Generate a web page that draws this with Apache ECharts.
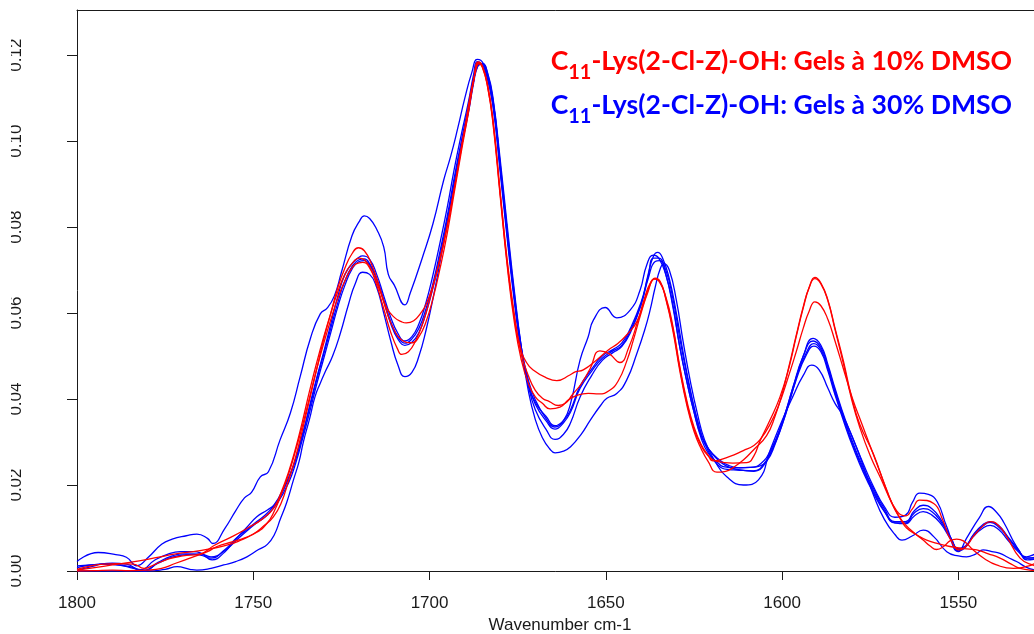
<!DOCTYPE html>
<html><head><meta charset="utf-8">
<script src="https://cdn.jsdelivr.net/npm/echarts@6/dist/echarts.min.js"></script>
<style>html,body{margin:0;padding:0;background:#fff}#c{width:1034px;height:634px}</style>
</head><body><div id="c"></div><script>
// ---------- DATA ----------
const wnTicks = [1800, 1750, 1700, 1650, 1600, 1550];
const absTicks = [0, 0.02, 0.04, 0.06, 0.08, 0.10, 0.12];
const xTitle = 'Wavenumber cm-1';
const legendPrefix = ['C', '11'];
const legendRest = ['-Lys(2-Cl-Z)-OH: Gels à 10% DMSO', '-Lys(2-Cl-Z)-OH: Gels à 30% DMSO'];

// 30% DMSO (blue) spectra, [wavenumber, absorbance]
const blue30_A = [[1800,0.0022],[1794,0.0043],[1789,0.0038],[1786,0.0032],[1783,0.0012],[1780,0.0030],[1776,0.0062],[1773,0.0074],[1769,0.0082],[1766,0.0086],[1763,0.0076],[1761.5,0.0064],[1758,0.0100],[1755,0.0140],[1752.5,0.0170],[1750.5,0.0183],[1748,0.0219],[1745.7,0.0231],[1742.4,0.0305],[1739.5,0.0367],[1736.7,0.0452],[1733.8,0.0541],[1731,0.0598],[1729,0.0612],[1727,0.0640],[1725,0.0695],[1722,0.0780],[1720,0.0812],[1718.5,0.0826],[1717,0.0820],[1715,0.0795],[1713,0.0754],[1711.7,0.0690],[1710,0.0665],[1707,0.0619],[1705.5,0.0646],[1702,0.0730],[1699,0.0809],[1696,0.0909],[1694,0.0965],[1692,0.1030],[1690,0.1100],[1688,0.1160],[1686.5,0.1190],[1685.5,0.1188],[1684,0.1165],[1682,0.1095],[1680,0.0945],[1678,0.0785],[1676,0.0640],[1674,0.0520],[1672,0.0445],[1670,0.0398],[1667,0.0355],[1664.5,0.0335],[1662,0.0350],[1660,0.0390],[1657.3,0.0491],[1655,0.0545],[1653.5,0.0584],[1650.2,0.0613],[1646.9,0.0589],[1643.1,0.0607],[1640.3,0.0653],[1638.4,0.0712],[1636.5,0.0735],[1635,0.0728],[1633,0.0690],[1631,0.0620],[1629,0.0520],[1627,0.0440],[1625,0.0370],[1623,0.0315],[1621,0.0285],[1618,0.0260],[1615,0.0245],[1612,0.0240],[1609,0.0241],[1606,0.0245],[1603,0.0280],[1600,0.0340],[1597,0.0420],[1594,0.0500],[1591.2,0.0541],[1589,0.0525],[1587,0.0480],[1585,0.0425],[1582,0.0350],[1580,0.0310],[1577,0.0250],[1574,0.0195],[1571,0.0150],[1568,0.0125],[1565,0.0130],[1563,0.0160],[1561,0.0181],[1558.5,0.0178],[1556,0.0161],[1553.3,0.0103],[1550,0.0045],[1547.7,0.0076],[1544,0.0125],[1541.5,0.0150],[1539,0.0135],[1537,0.0111],[1533.5,0.0057],[1530.7,0.0033],[1528,0.0040],[1526,0.0045]];
const blue30_B = [[1800,0.0012],[1795,0.0015],[1790,0.0018],[1786,0.0016],[1782,0.0003],[1778,0.0025],[1774,0.0040],[1770.7,0.0045],[1767,0.0045],[1765,0.0042],[1761.7,0.0026],[1758,0.0045],[1755.6,0.0068],[1752,0.0100],[1749,0.0126],[1746,0.0142],[1744,0.0155],[1741,0.0200],[1738.6,0.0245],[1736,0.0315],[1734,0.0385],[1732,0.0450],[1730,0.0510],[1728,0.0575],[1726,0.0640],[1724,0.0690],[1722,0.0715],[1720,0.0730],[1719,0.0733],[1717,0.0725],[1715,0.0690],[1713,0.0640],[1711,0.0590],[1709,0.0553],[1707,0.0535],[1705,0.0545],[1703,0.0575],[1701,0.0625],[1699,0.0690],[1697,0.0765],[1695,0.0845],[1693,0.0935],[1691,0.1015],[1689,0.1090],[1687.5,0.1155],[1686.5,0.1185],[1685.5,0.1182],[1684,0.1160],[1682,0.1080],[1680,0.0930],[1678,0.0775],[1676,0.0630],[1674,0.0512],[1672,0.0435],[1670,0.0392],[1667,0.0360],[1664.4,0.0338],[1662,0.0350],[1660,0.0375],[1657.3,0.0430],[1654,0.0470],[1651,0.0500],[1648,0.0515],[1645.5,0.0530],[1643,0.0565],[1640,0.0625],[1638,0.0685],[1636.5,0.0728],[1635,0.0728],[1633,0.0690],[1631,0.0615],[1629,0.0520],[1627,0.0440],[1625,0.0370],[1623,0.0310],[1621,0.0275],[1618,0.0250],[1616.7,0.0243],[1613,0.0240],[1609.1,0.0241],[1606,0.0250],[1603,0.0285],[1600,0.0345],[1597,0.0425],[1594,0.0500],[1591.2,0.0535],[1589,0.0520],[1587,0.0475],[1585,0.0420],[1582,0.0345],[1580,0.0300],[1577,0.0240],[1574,0.0190],[1571,0.0145],[1568,0.0115],[1565,0.0115],[1562.5,0.0140],[1560,0.0153],[1557.5,0.0145],[1555,0.0120],[1552,0.0075],[1550,0.0047],[1548,0.0055],[1545.8,0.0084],[1543,0.0108],[1541,0.0115],[1538.5,0.0105],[1536,0.0080],[1533,0.0050],[1530.5,0.0026],[1528,0.0028],[1526,0.0032]];
const blue30_C = [[1800,0.0002],[1795,0.0012],[1793,0.0016],[1789,0.0015],[1785,0.0010],[1781,0.0000],[1777,0.0020],[1773,0.0035],[1769,0.0040],[1765,0.0037],[1762,0.0030],[1758,0.0050],[1755,0.0075],[1752,0.0095],[1749,0.0115],[1746,0.0135],[1743,0.0165],[1740,0.0215],[1738,0.0260],[1736,0.0320],[1734,0.0380],[1732,0.0445],[1730,0.0505],[1728,0.0565],[1726,0.0625],[1724,0.0675],[1722,0.0708],[1720,0.0724],[1718.5,0.0726],[1717,0.0715],[1715,0.0680],[1713,0.0630],[1711,0.0580],[1709,0.0545],[1707,0.0530],[1705,0.0540],[1703,0.0565],[1701,0.0610],[1699,0.0670],[1697,0.0745],[1695,0.0825],[1693,0.0915],[1691,0.1000],[1689,0.1080],[1687.5,0.1145],[1686.3,0.1180],[1685.3,0.1179],[1684,0.1158],[1682,0.1085],[1680,0.0940],[1678,0.0785],[1676,0.0640],[1674,0.0515],[1672,0.0435],[1670,0.0388],[1667,0.0350],[1664.4,0.0330],[1662,0.0345],[1660,0.0370],[1657.3,0.0425],[1654,0.0465],[1651,0.0495],[1648,0.0512],[1645.5,0.0525],[1643,0.0560],[1640,0.0620],[1638,0.0680],[1636,0.0720],[1634.7,0.0722],[1633,0.0700],[1631,0.0635],[1629,0.0540],[1627,0.0455],[1625,0.0380],[1623,0.0320],[1621,0.0280],[1618,0.0245],[1615,0.0236],[1612.9,0.0235],[1608.2,0.0233],[1604.4,0.0258],[1602,0.0300],[1599,0.0370],[1596,0.0450],[1593,0.0510],[1591,0.0529],[1589,0.0515],[1587,0.0470],[1585,0.0415],[1582,0.0340],[1580,0.0295],[1577,0.0235],[1574,0.0185],[1571,0.0140],[1568,0.0112],[1565,0.0112],[1562.5,0.0135],[1560,0.0145],[1557.5,0.0138],[1555,0.0115],[1552,0.0075],[1550,0.0050],[1548,0.0056],[1545.8,0.0082],[1543,0.0105],[1541,0.0113],[1538.5,0.0102],[1536,0.0078],[1533,0.0048],[1530.5,0.0030],[1528,0.0030],[1526,0.0033]];
const blue30_D = [[1800,0.0008],[1796,0.0014],[1792,0.0016],[1788,0.0014],[1784,0.0006],[1781,0.0002],[1777,0.0018],[1773,0.0032],[1769,0.0038],[1765,0.0040],[1762,0.0033],[1758,0.0048],[1755,0.0070],[1752,0.0092],[1749,0.0112],[1746,0.0130],[1743,0.0160],[1740,0.0205],[1738,0.0250],[1736,0.0308],[1734,0.0370],[1732,0.0435],[1730,0.0495],[1728,0.0555],[1726,0.0615],[1724,0.0665],[1722,0.0702],[1720,0.0720],[1718.5,0.0722],[1717,0.0712],[1715,0.0678],[1713,0.0628],[1711,0.0575],[1709,0.0540],[1707,0.0525],[1705,0.0532],[1703,0.0555],[1701,0.0600],[1699,0.0660],[1697,0.0735],[1695,0.0815],[1693,0.0905],[1691,0.0990],[1689,0.1070],[1687.5,0.1140],[1686.3,0.1175],[1685,0.1180],[1683.5,0.1155],[1682,0.1095],[1680,0.0950],[1678,0.0795],[1676,0.0648],[1674,0.0522],[1672,0.0432],[1670,0.0375],[1667,0.0330],[1664.4,0.0306],[1662,0.0318],[1660,0.0345],[1657.3,0.0405],[1654,0.0455],[1651,0.0490],[1648,0.0508],[1645.5,0.0522],[1643,0.0555],[1640,0.0620],[1638,0.0690],[1636.5,0.0732],[1635.3,0.0741],[1634,0.0730],[1632,0.0680],[1630,0.0600],[1628,0.0505],[1626,0.0420],[1624,0.0350],[1622,0.0300],[1619,0.0265],[1616,0.0245],[1612,0.0235],[1608,0.0232],[1604.4,0.0255],[1602,0.0295],[1599,0.0365],[1596,0.0445],[1593,0.0505],[1591,0.0523],[1589,0.0510],[1587,0.0465],[1585,0.0410],[1582,0.0335],[1580,0.0290],[1577,0.0230],[1574,0.0180],[1571,0.0138],[1568,0.0112],[1565,0.0110],[1562.5,0.0128],[1560,0.0138],[1557.5,0.0130],[1555,0.0110],[1552,0.0072],[1550,0.0052],[1548,0.0058],[1545.8,0.0080],[1543,0.0100],[1541,0.0106],[1538.5,0.0096],[1536,0.0072],[1533,0.0045],[1530.5,0.0030],[1528,0.0032],[1526,0.0035]];
const blue30_E = [[1800,0.0000],[1790,0.0000],[1780,0.0000],[1775,0.0004],[1771.6,0.0010],[1768,0.0004],[1766,0.0002],[1762,0.0006],[1758.4,0.0014],[1755,0.0022],[1751.8,0.0033],[1748.5,0.0050],[1746,0.0062],[1744,0.0085],[1742.4,0.0119],[1740.5,0.0160],[1738.6,0.0212],[1737,0.0255],[1735.8,0.0300],[1734,0.0355],[1732.5,0.0405],[1731,0.0437],[1729.5,0.0465],[1727.5,0.0500],[1725.3,0.0553],[1723,0.0620],[1721,0.0670],[1719,0.0695],[1717,0.0690],[1715,0.0660],[1713,0.0600],[1711,0.0535],[1709,0.0480],[1707,0.0452],[1705,0.0462],[1703,0.0500],[1701,0.0560],[1699,0.0635],[1697,0.0720],[1695,0.0810],[1693,0.0900],[1691,0.0985],[1689,0.1065],[1687.5,0.1135],[1686.3,0.1175],[1685,0.1180],[1683.5,0.1158],[1682,0.1100],[1680,0.0960],[1678,0.0805],[1676,0.0655],[1674,0.0522],[1672,0.0420],[1670,0.0352],[1668,0.0310],[1666,0.0285],[1664.4,0.0275],[1662,0.0279],[1660,0.0289],[1657,0.0318],[1654.4,0.0351],[1651.5,0.0385],[1649.7,0.0402],[1646.9,0.0413],[1644.1,0.0444],[1641.2,0.0506],[1639,0.0560],[1637.5,0.0605],[1636,0.0660],[1634.5,0.0705],[1633.5,0.0715],[1632,0.0700],[1630,0.0630],[1628,0.0530],[1626,0.0440],[1624,0.0365],[1622,0.0305],[1619,0.0255],[1615.7,0.0219],[1611,0.0200],[1606.7,0.0212],[1603.4,0.0281],[1600,0.0350],[1597,0.0405],[1594,0.0455],[1591.6,0.0479],[1589.5,0.0468],[1587,0.0425],[1585,0.0390],[1583,0.0365],[1580,0.0310],[1577,0.0245],[1574,0.0175],[1571,0.0120],[1568,0.0085],[1566,0.0072],[1563,0.0082],[1560,0.0095],[1557,0.0080],[1553.3,0.0045],[1550,0.0035],[1547.7,0.0033],[1545,0.0040],[1543,0.0049],[1540.5,0.0045],[1538.2,0.0041],[1536,0.0032],[1533.5,0.0022],[1530.5,0.0008],[1528,0.0002],[1526,0.0000]];

// 10% DMSO (red) spectra, [wavenumber, absorbance]
const red10_A = [[1800,0.0002],[1795,0.0008],[1790,0.0014],[1785,0.0020],[1780,0.0027],[1776.4,0.0033],[1772,0.0040],[1767,0.0045],[1762,0.0052],[1757.5,0.0060],[1754,0.0070],[1750,0.0086],[1747,0.0105],[1744.3,0.0126],[1742,0.0160],[1740,0.0210],[1738,0.0265],[1736,0.0330],[1734,0.0400],[1732,0.0470],[1730,0.0540],[1728,0.0600],[1726,0.0660],[1724,0.0705],[1722,0.0738],[1720.2,0.0752],[1718.5,0.0745],[1716.5,0.0715],[1714,0.0655],[1712,0.0600],[1710,0.0560],[1708,0.0538],[1705,0.0531],[1703,0.0545],[1701,0.0580],[1699,0.0635],[1697,0.0705],[1695,0.0785],[1693,0.0880],[1691,0.0975],[1689,0.1065],[1687.5,0.1140],[1686.2,0.1184],[1685,0.1175],[1683.5,0.1130],[1682,0.1050],[1680,0.0885],[1678,0.0725],[1676,0.0600],[1674.3,0.0522],[1672.5,0.0485],[1670.5,0.0467],[1667,0.0450],[1663.9,0.0443],[1660.2,0.0456],[1658.7,0.0463],[1656.4,0.0468],[1652.6,0.0491],[1649.3,0.0514],[1646.5,0.0530],[1644.1,0.0549],[1641.2,0.0580],[1639,0.0630],[1637.5,0.0665],[1636,0.0681],[1634.5,0.0672],[1633,0.0635],[1631,0.0565],[1629,0.0470],[1627,0.0390],[1625,0.0330],[1623,0.0292],[1621,0.0268],[1618.5,0.0255],[1614,0.0251],[1610,0.0252],[1608,0.0268],[1606.3,0.0302],[1603.5,0.0350],[1600.6,0.0405],[1598,0.0475],[1596,0.0545],[1594,0.0612],[1592.3,0.0660],[1590.7,0.0683],[1589,0.0670],[1587,0.0630],[1585,0.0565],[1582.6,0.0488],[1580.3,0.0405],[1578,0.0342],[1574.1,0.0272],[1570.4,0.0190],[1567.5,0.0140],[1565,0.0128],[1563,0.0145],[1561,0.0165],[1557,0.0157],[1554.5,0.0120],[1552.4,0.0076],[1549.6,0.0049],[1547.5,0.0060],[1545.8,0.0080],[1543,0.0105],[1541,0.0115],[1538.5,0.0105],[1536.3,0.0080],[1532.5,0.0030],[1529,0.0014],[1526,0.0010]];
const red10_B = [[1800,0.0004],[1796,0.0012],[1792.5,0.0016],[1788,0.0017],[1784,0.0016],[1781,0.0006],[1778,0.0015],[1774,0.0028],[1770,0.0035],[1765,0.0040],[1761,0.0060],[1756,0.0080],[1751.8,0.0099],[1747.1,0.0123],[1744,0.0150],[1742,0.0185],[1740,0.0230],[1738,0.0285],[1736,0.0350],[1734,0.0420],[1732,0.0485],[1730,0.0545],[1728,0.0600],[1726,0.0650],[1724,0.0690],[1722,0.0715],[1720,0.0728],[1718.5,0.0724],[1716.5,0.0700],[1714,0.0650],[1712,0.0610],[1710,0.0590],[1708,0.0580],[1706.6,0.0577],[1704.5,0.0582],[1702.5,0.0600],[1701,0.0620],[1699,0.0665],[1697,0.0725],[1695,0.0800],[1693,0.0890],[1691,0.0985],[1689,0.1070],[1687.5,0.1140],[1686.2,0.1182],[1685,0.1172],[1683.5,0.1125],[1682,0.1045],[1680,0.0880],[1678,0.0718],[1676,0.0592],[1674,0.0505],[1672,0.0455],[1670,0.0420],[1668,0.0402],[1666,0.0394],[1663.5,0.0385],[1661.5,0.0390],[1659.5,0.0410],[1657,0.0435],[1654.5,0.0470],[1651.7,0.0512],[1649,0.0505],[1646,0.0485],[1643.5,0.0520],[1641,0.0580],[1639,0.0635],[1637.5,0.0668],[1636,0.0680],[1634.5,0.0670],[1633,0.0633],[1631,0.0560],[1629,0.0465],[1627,0.0385],[1625,0.0325],[1623,0.0285],[1621,0.0255],[1618.5,0.0230],[1616,0.0232],[1613.8,0.0241],[1611,0.0258],[1608.2,0.0281],[1604.4,0.0315],[1602,0.0360],[1600,0.0412],[1598,0.0478],[1596,0.0548],[1594,0.0615],[1592.3,0.0660],[1590.7,0.0680],[1589,0.0668],[1587,0.0628],[1585,0.0562],[1582.6,0.0482],[1580.3,0.0400],[1578,0.0335],[1575,0.0268],[1572,0.0215],[1569,0.0160],[1566,0.0117],[1563,0.0092],[1560,0.0072],[1558,0.0058],[1556.2,0.0050],[1554,0.0058],[1552.4,0.0070],[1550.5,0.0074],[1548.6,0.0070],[1545.8,0.0049],[1542.5,0.0028],[1539.2,0.0014],[1534.4,0.0006],[1530,0.0012],[1528,0.0018],[1526,0.0020]];
const red10_C = [[1800,0.0000],[1795,0.0001],[1790,0.0002],[1785,0.0001],[1780,0.0002],[1776,0.0006],[1772,0.0018],[1767,0.0033],[1763,0.0045],[1760.3,0.0057],[1756,0.0068],[1752.8,0.0076],[1749,0.0090],[1746.1,0.0111],[1744,0.0140],[1742,0.0180],[1740,0.0225],[1738,0.0280],[1736,0.0340],[1734,0.0405],[1732,0.0470],[1730,0.0530],[1728,0.0585],[1726,0.0635],[1724,0.0675],[1722,0.0705],[1720,0.0717],[1719,0.0718],[1717,0.0705],[1715,0.0665],[1713,0.0610],[1711,0.0555],[1709,0.0515],[1707.9,0.0504],[1706,0.0510],[1704,0.0535],[1702,0.0575],[1700,0.0630],[1698,0.0695],[1696,0.0765],[1694,0.0845],[1692,0.0935],[1690,0.1030],[1688.5,0.1105],[1687,0.1160],[1686,0.1180],[1685,0.1172],[1683.5,0.1125],[1682,0.1040],[1680,0.0875],[1678,0.0712],[1676,0.0582],[1674,0.0492],[1672,0.0437],[1670,0.0405],[1668,0.0390],[1665.8,0.0377],[1663,0.0381],[1660.6,0.0398],[1658,0.0409],[1655,0.0413],[1652,0.0412],[1649,0.0420],[1646.5,0.0442],[1644,0.0490],[1642.2,0.0537],[1640,0.0600],[1638,0.0650],[1636.3,0.0679],[1635,0.0675],[1633,0.0638],[1631,0.0570],[1629,0.0475],[1627,0.0395],[1625,0.0335],[1623,0.0295],[1621,0.0270],[1619.6,0.0256],[1615,0.0266],[1611,0.0280],[1608,0.0292],[1606.3,0.0305],[1603.5,0.0340],[1601,0.0385],[1598.5,0.0445],[1596,0.0510],[1594,0.0565],[1592.3,0.0605],[1590.7,0.0626],[1589,0.0617],[1587,0.0585],[1585,0.0535],[1582.6,0.0470],[1580,0.0400],[1577.5,0.0345],[1575,0.0290],[1572,0.0225],[1569,0.0160],[1566,0.0115],[1564.7,0.0100],[1562,0.0085],[1559,0.0072],[1555.5,0.0063],[1552.4,0.0057],[1548.5,0.0052],[1544.8,0.0049],[1541.5,0.0040],[1538.2,0.0030],[1535,0.0016],[1532.5,0.0006],[1528,0.0001],[1526,0.0000]];

// ---------- CHART ----------
const AX = '#1a1a1a';
const FONT = "'Liberation Sans', Arial, sans-serif";
const chart = echarts.init(document.getElementById('c'), null, {renderer: 'canvas'});

function lineSeries(name, data, color) {
  return {
    name, type: 'line', data, showSymbol: false, symbol: 'none',
    smooth: 0.5,
    lineStyle: {color, width: 1.3}, itemStyle: {color},
    animation: false, silent: true, z: 2
  };
}

const blueSets = [blue30_A, blue30_B, blue30_C, blue30_D, blue30_E];
const redSets = [red10_A, red10_B, red10_C];
const series = [];
blueSets.forEach((d, i) => series.push(lineSeries('30% DMSO ' + (i + 1), d, '#0000ff')));
redSets.forEach((d, i) => series.push(lineSeries('10% DMSO ' + (i + 1), d, '#ff0000')));

const option = {
  backgroundColor: '#ffffff',
  animation: false,
  grid: {left: 77, top: 10, bottom: 63, right: -9, containLabel: false, outerBoundsMode: 'none'},
  xAxis: [{
    type: 'value', inverse: true, min: 1526, max: 1800, position: 'bottom',
    name: xTitle, nameLocation: 'middle', nameGap: 44,
    nameTextStyle: {fontFamily: FONT, fontSize: 17, color: AX},
    axisLine: {show: true, onZero: false, lineStyle: {color: AX, width: 1}},
    axisTick: {show: true, length: 9, lineStyle: {color: AX}, customValues: wnTicks},
    axisLabel: {show: true, margin: 24, fontFamily: FONT, fontSize: 17, color: AX,
      customValues: wnTicks, formatter: v => String(v)},
    splitLine: {show: false}
  }, {
    type: 'value', inverse: true, min: 1526, max: 1800, position: 'top',
    axisLine: {show: true, onZero: false, lineStyle: {color: AX, width: 1}},
    axisTick: {show: false}, axisLabel: {show: false}, splitLine: {show: false}
  }],
  yAxis: [{
    type: 'value', min: 0, max: 0.1305, position: 'left',
    axisLine: {show: true, onZero: false, lineStyle: {color: AX, width: 1}},
    axisTick: {show: true, length: 10, lineStyle: {color: AX}, customValues: absTicks},
    axisLabel: {show: true, rotate: 90, margin: 52, fontFamily: FONT, fontSize: 17, color: AX,
      customValues: absTicks, formatter: v => v.toFixed(2)},
    splitLine: {show: false}
  }],
  series
};
chart.setOption(option);

// ---------- legend texts with subscript ----------
const ctx = document.createElement('canvas').getContext('2d');
function tw(t, f) { ctx.font = f; return ctx.measureText(t).width; }
const LFONT = 'Lato, "Open Sans", sans-serif';
const startX = 550.7, targetW = 461.6;
const baselines = [70, 114];
const colors = ['#ff0000', '#0000ff'];
const graphics = [];
legendRest.forEach((rest, i) => {
  let s = 22;
  const fm = sz => 'bold ' + sz + 'px ' + LFONT;
  const total = sz => tw(legendPrefix[0], fm(sz)) + tw(legendPrefix[1], fm(sz * 0.75)) + tw(rest, fm(sz));
  s = s * targetW / total(s);
  const sub = s * 0.75;
  let x = startX;
  const bl = baselines[i];
  const mid = bl - 0.32 * s;
  graphics.push({type: 'text', x: x, y: mid, z: 10, silent: true,
    style: {text: legendPrefix[0], font: fm(s), fill: colors[i], align: 'left', verticalAlign: 'middle'}});
  x += tw(legendPrefix[0], fm(s));
  graphics.push({type: 'text', x: x, y: bl + 9 - 0.32 * sub, z: 10, silent: true,
    style: {text: legendPrefix[1], font: fm(sub), fill: colors[i], align: 'left', verticalAlign: 'middle'}});
  x += tw(legendPrefix[1], fm(sub));
  graphics.push({type: 'text', x: x, y: mid, z: 10, silent: true,
    style: {text: rest, font: fm(s), fill: colors[i], align: 'left', verticalAlign: 'middle'}});
});
// the original's rotated y labels are clipped at their tops on the left edge
graphics.push({type: 'rect', shape: {x: 0, y: 0, width: 11, height: 634}, z: 100, silent: true,
  style: {fill: '#ffffff'}});
chart.setOption({graphic: graphics});
</script></body></html>
